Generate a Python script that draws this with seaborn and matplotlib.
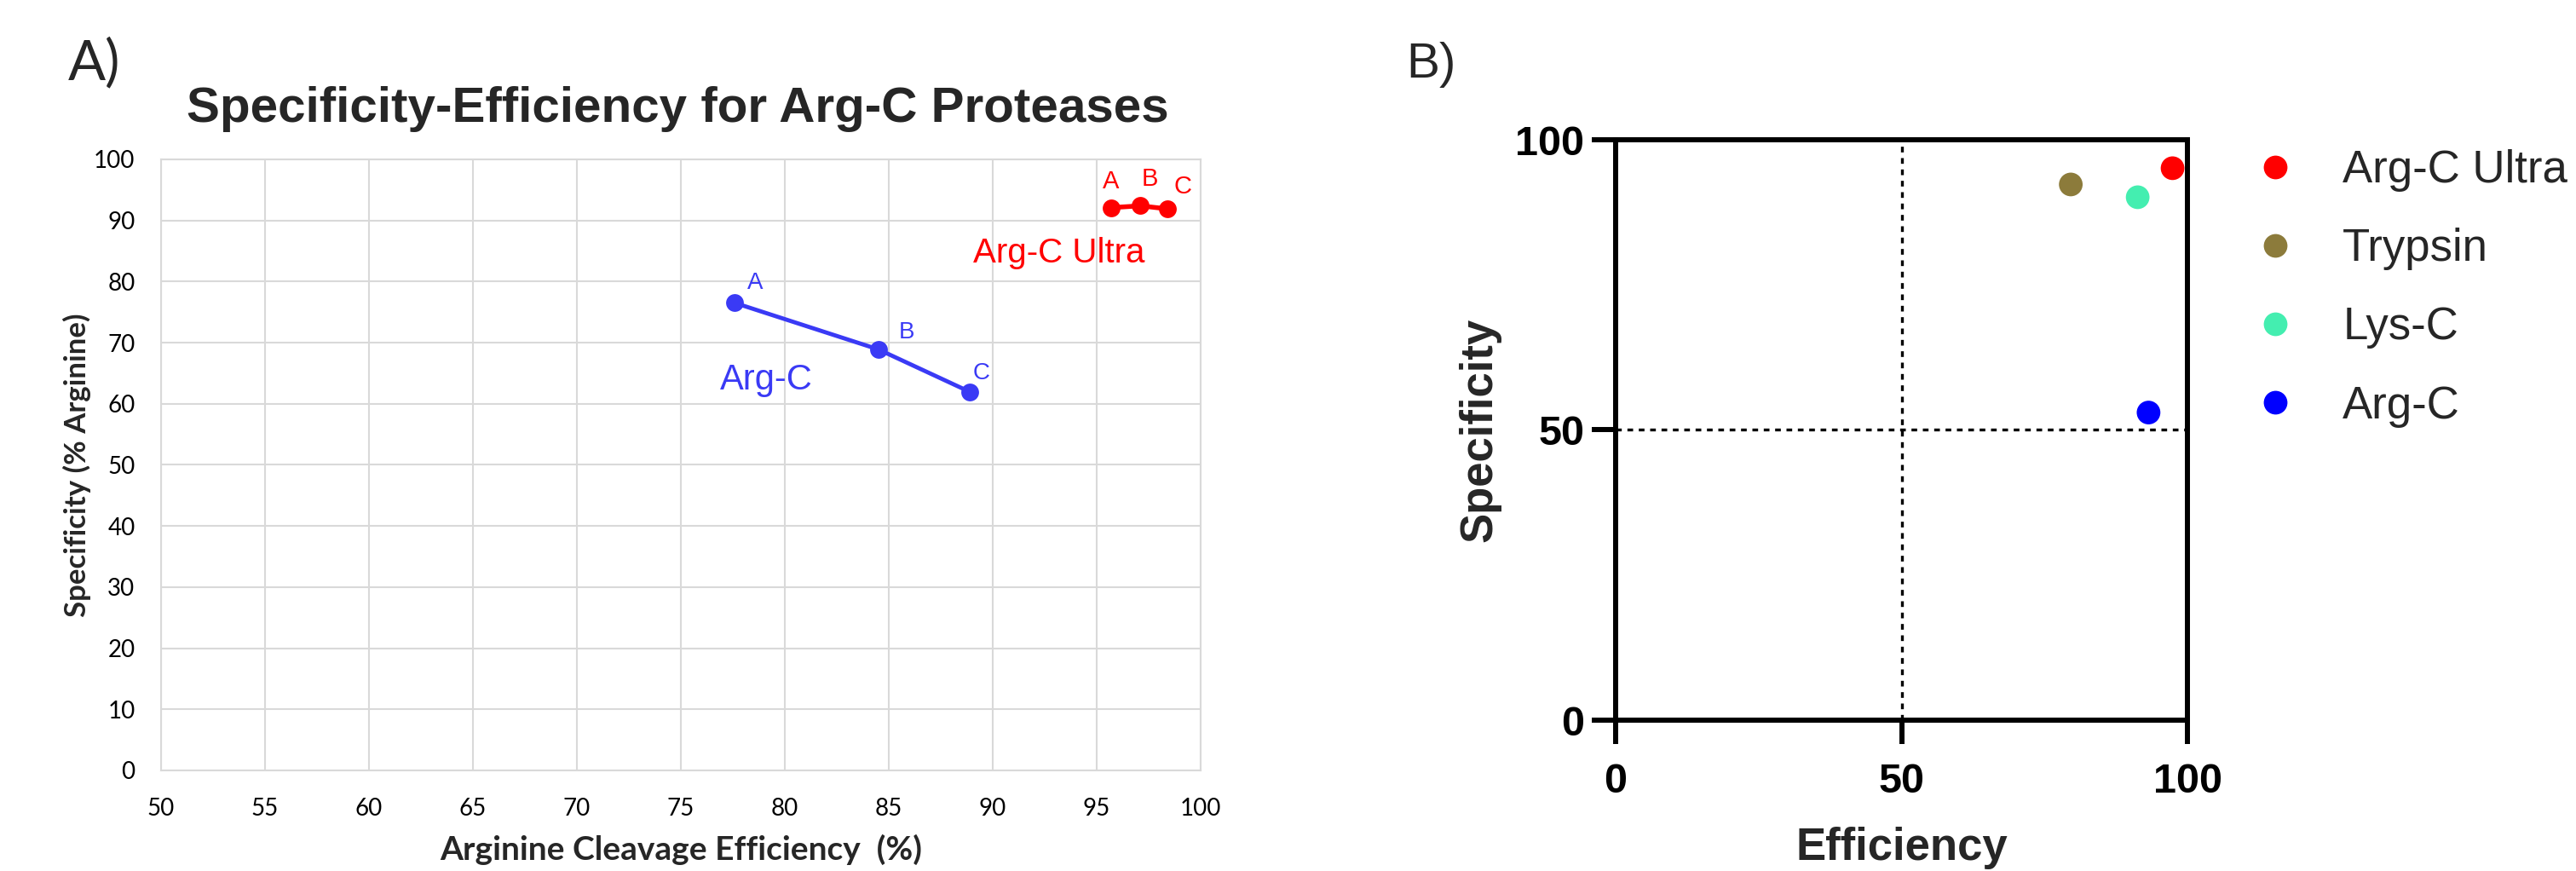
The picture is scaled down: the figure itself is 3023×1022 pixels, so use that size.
import numpy as np
import pandas as pd
import matplotlib.pyplot as plt
from matplotlib.lines import Line2D
import seaborn as sns

# === Panel A data ===
argc_eff = [77.6, 84.5, 88.9]
argc_spec = [76.5, 68.9, 61.95]
ultra_eff = [95.7, 97.1, 98.4]
ultra_spec = [92.1, 92.4, 91.9]
point_labels = ["A", "B", "C"]
x_ticks_a = list(range(50, 101, 5))
y_ticks_a = list(range(0, 101, 10))

# === Panel B data ===
enzymes = ["Arg-C Ultra", "Trypsin", "Lys-C", "Arg-C"]
efficiency = [97.4, 79.6, 91.3, 93.2]
specificity = [95.1, 92.3, 90.1, 53.0]
enzyme_colors = ["#FF0000", "#8C7B3B", "#44EEB0", "#0000FF"]
ticks_b = [0, 50, 100]

sns.set_style("white")
plt.rcParams["font.family"] = ["Liberation Sans", "DejaVu Sans"]

W, H = 3023, 1022
fig = plt.figure(figsize=(W / 100, H / 100), dpi=100)


def px_box(x0, y0, x1, y1):
    return [x0 / W, 1 - y1 / H, (x1 - x0) / W, (y1 - y0) / H]


axA = fig.add_axes(px_box(189, 187, 1409, 904))
axB = fig.add_axes(px_box(1896, 164, 2567, 845))

# ---------------- Panel A ----------------
blue = "#3a3af5"
red = "#ff0000"
grid_c = "#d9d9d9"
calibri_like = ["Lato", "DejaVu Sans"]

sns.lineplot(x=argc_eff, y=argc_spec, ax=axA, color=blue, lw=3.5, marker="o",
             markersize=15, markeredgewidth=0, zorder=3)
sns.lineplot(x=ultra_eff, y=ultra_spec, ax=axA, color=red, lw=4, marker="o",
             markersize=15, markeredgewidth=0, zorder=3)

blue_off = [(17, 12), (24, 9), (10, 11)]
red_off = [(0, 16.5), (8, 17), (13, 13)]
for lab, x, y, off in zip(point_labels, argc_eff, argc_spec, blue_off):
    axA.annotate(lab, (x, y), xytext=off, textcoords="offset points",
                 ha="center", va="baseline", color=blue, fontsize=20)
for lab, x, y, off in zip(point_labels, ultra_eff, ultra_spec, red_off):
    axA.annotate(lab, (x, y), xytext=off, textcoords="offset points",
                 ha="center", va="baseline", color=red, fontsize=21)

axA.text(76.9, 62.3, "Arg-C", color=blue, fontsize=30, ha="left", va="baseline")
axA.text(89.06, 83.1, "Arg-C Ultra", color=red, fontsize=29, ha="left", va="baseline")

axA.set_xlim(50, 100)
axA.set_ylim(0, 100)
axA.set_xticks(x_ticks_a)
axA.set_yticks(y_ticks_a)
axA.grid(True, color=grid_c, lw=1.5)
for sp in axA.spines.values():
    sp.set_color(grid_c)
    sp.set_linewidth(1.5)
axA.tick_params(axis="both", length=0, labelsize=20, colors="black")
axA.tick_params(axis="x", pad=23)
axA.tick_params(axis="y", pad=22)
for t in axA.get_xticklabels() + axA.get_yticklabels():
    t.set_family(calibri_like)

axA.set_xlabel("Arginine Cleavage Efficiency  (%)", fontsize=28, fontweight="bold",
               family=calibri_like)
axA.set_ylabel("Specificity (% Arginine)", fontsize=25, fontweight="bold",
               family=calibri_like)
axA.xaxis.set_label_coords(0.5, -0.105)
axA.yaxis.set_label_coords(-0.0672, 0.499)

fig.text(795 / W, 1 - 143 / H, "Specificity-Efficiency for Arg-C Proteases",
         ha="center", va="baseline", fontsize=42, fontweight="bold")
fig.text(80 / W, 1 - 93 / H, "A)", ha="left", va="baseline", fontsize=47,
         family=calibri_like)

# ---------------- Panel B ----------------
df = pd.DataFrame({"Enzyme": enzymes, "Efficiency": efficiency, "Specificity": specificity})
palette = dict(zip(enzymes, enzyme_colors))

axB.axhline(50, color="black", lw=2.4, ls=(0, (2, 2)), zorder=1)
axB.axvline(50, color="black", lw=2.4, ls=(0, (2, 2)), zorder=1)
sns.scatterplot(data=df, x="Efficiency", y="Specificity", hue="Enzyme", palette=palette,
                s=400, edgecolor="none", legend=False, ax=axB, zorder=3, clip_on=False)

axB.set_xlim(0, 100)
axB.set_ylim(0, 100)
axB.set_xticks(ticks_b)
axB.set_yticks(ticks_b)
for sp in axB.spines.values():
    sp.set_color("black")
    sp.set_linewidth(4.3)
axB.tick_params(axis="both", bottom=True, left=True, direction="out", length=20,
                width=4.3, labelsize=35, colors="black")
axB.tick_params(axis="x", pad=16)
axB.tick_params(axis="y", pad=6.5)
for t in axB.get_xticklabels() + axB.get_yticklabels():
    t.set_fontweight("bold")

axB.set_xlabel("Efficiency", fontsize=38, fontweight="bold")
axB.set_ylabel("Specificity", fontsize=38, fontweight="bold")
axB.xaxis.set_label_coords(0.5, -0.184)
axB.yaxis.set_label_coords(-0.201, 0.5)

handles = [Line2D([], [], marker="o", ls="", color=c, markersize=20, markeredgewidth=0)
           for c in enzyme_colors]
axB.legend(handles, enzymes, loc="upper left", bbox_to_anchor=(2643.6 / W, 1 - 175 / H),
           bbox_transform=fig.transFigure, frameon=False, fontsize=38, handlelength=1.0,
           handletextpad=1.0, labelspacing=0.8, borderpad=0, borderaxespad=0)

fig.text(1650 / W, 1 - 91 / H, "B)", ha="left", va="baseline", fontsize=42)

fig.savefig("out.png", dpi=100)
